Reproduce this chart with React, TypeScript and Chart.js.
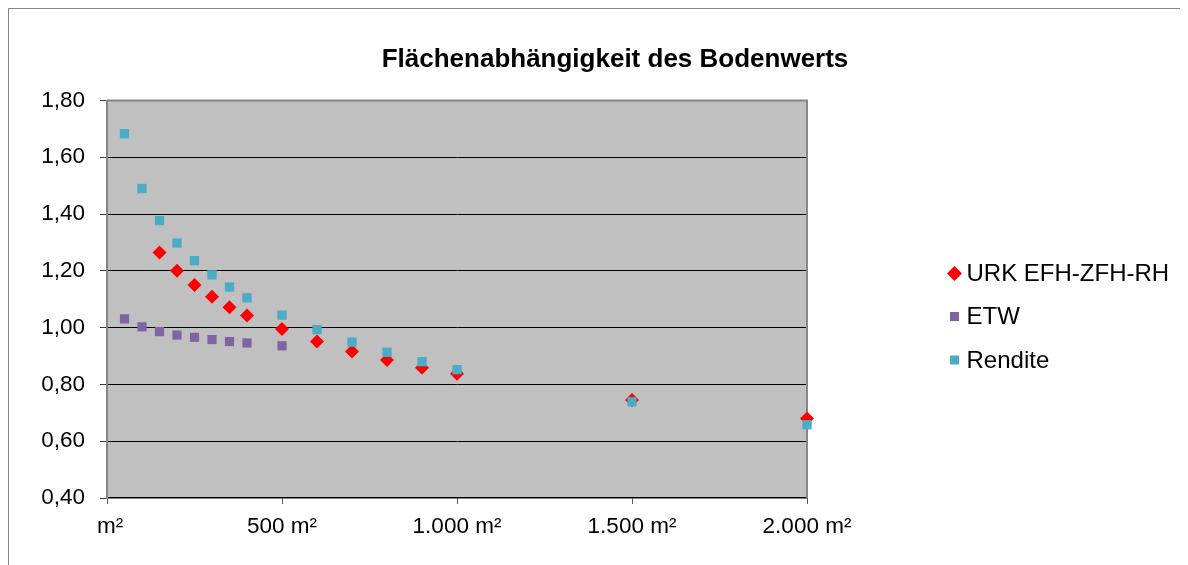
import React, { useEffect, useRef } from 'react';
import { Chart, registerables } from 'chart.js';

Chart.register(...registerables);

const chartTitle = 'Flächenabhängigkeit des Bodenwerts';
const urkLabel = 'URK EFH-ZFH-RH';
const etwLabel = 'ETW';
const renditeLabel = 'Rendite';

const urkAreas = [150, 200, 250, 300, 350, 400, 500, 600, 700, 800, 900, 1000, 1500, 2000];
const urkValues = [1.265, 1.2, 1.15, 1.109, 1.072, 1.043, 0.995, 0.951, 0.916, 0.886, 0.859, 0.838, 0.745, 0.68];

const etwAreas = [50, 100, 150, 200, 250, 300, 350, 400, 500];
const etwValues = [1.031, 1.003, 0.986, 0.974, 0.966, 0.958, 0.951, 0.946, 0.936];

const renditeAreas = [50, 100, 150, 200, 250, 300, 350, 400, 500, 600, 700, 800, 900, 1000, 1500, 2000];
const renditeValues = [1.683, 1.49, 1.377, 1.298, 1.236, 1.186, 1.143, 1.105, 1.044, 0.993, 0.949, 0.913, 0.88, 0.852, 0.739, 0.658];

const xTickValues = [0, 500, 1000, 1500, 2000];
const xTickLabels = [' m²', '500 m²', '1.000 m²', '1.500 m²', '2.000 m²'];
const yTickValues = [0.4, 0.6, 0.8, 1.0, 1.2, 1.4, 1.6, 1.8];
const yTickLabels = ['0,40', '0,60', '0,80', '1,00', '1,20', '1,40', '1,60', '1,80'];

const FONT = "'Liberation Sans', Arial, sans-serif";
const RED = '#FF0000';
const PURPLE = '#8064A2';
const AQUA = '#4BACC6';

const toPoints = (xs: number[], ys: number[]) => xs.map((x, i) => ({ x, y: ys[i] }));

const plotFrame = {
  id: 'plotFrame',
  beforeDraw(chart: any) {
    const { ctx, chartArea: a } = chart;
    ctx.save();
    ctx.fillStyle = '#C0C0C0';
    ctx.fillRect(a.left, a.top, a.right - a.left, a.bottom - a.top);
    ctx.restore();
  },
  beforeDatasetsDraw(chart: any) {
    const { ctx, chartArea: a } = chart;
    ctx.save();
    ctx.strokeStyle = '#868686';
    ctx.lineWidth = 2;
    ctx.beginPath();
    ctx.moveTo(a.left, a.top);
    ctx.lineTo(a.right, a.top);
    ctx.lineTo(a.right, a.bottom);
    ctx.stroke();
    ctx.restore();
  },
};

const titleAndLegend = {
  id: 'titleAndLegend',
  afterDraw(chart: any) {
    const { ctx } = chart;
    ctx.save();
    ctx.fillStyle = '#000';
    ctx.font = `bold 26px ${FONT}`;
    ctx.textAlign = 'center';
    ctx.textBaseline = 'alphabetic';
    ctx.fillText(chartTitle, 606, 58);

    const legendX = 945.5;
    const legendYs = [264.5, 307.5, 351];
    ctx.font = `24px ${FONT}`;
    ctx.textAlign = 'left';
    ctx.textBaseline = 'middle';
    chart.data.datasets.forEach((ds: any, i: number) => {
      const y = legendYs[i];
      ctx.fillStyle = ds.pointBackgroundColor;
      ctx.beginPath();
      if (ds.pointStyle === 'rectRot') {
        const r = 7.5;
        ctx.moveTo(legendX - r, y);
        ctx.lineTo(legendX, y - r);
        ctx.lineTo(legendX + r, y);
        ctx.lineTo(legendX, y + r);
        ctx.closePath();
      } else {
        const s = 4.5;
        ctx.rect(legendX - s, y - s, 2 * s, 2 * s);
      }
      ctx.fill();
      ctx.fillStyle = '#000';
      ctx.fillText(ds.label, 957.5, y + 1);
    });
    ctx.restore();
  },
};

export default function App() {
  const canvasRef = useRef<HTMLCanvasElement | null>(null);

  useEffect(() => {
    document.body.style.overflow = 'hidden';
    const canvas = canvasRef.current;
    if (!canvas) return;
    const chart = new Chart(canvas, {
      type: 'scatter',
      data: {
        datasets: [
          {
            label: urkLabel,
            data: toPoints(urkAreas, urkValues),
            order: 3,
            pointStyle: 'rectRot',
            pointRadius: 7,
            pointHoverRadius: 7,
            pointBackgroundColor: RED,
            pointBorderColor: RED,
            pointBorderWidth: 0,
            clip: false,
          } as any,
          {
            label: etwLabel,
            data: toPoints(etwAreas, etwValues),
            order: 2,
            pointStyle: 'rect',
            pointRadius: 6.5,
            pointHoverRadius: 6.5,
            pointBackgroundColor: PURPLE,
            pointBorderColor: PURPLE,
            pointBorderWidth: 0,
            clip: false,
          } as any,
          {
            label: renditeLabel,
            data: toPoints(renditeAreas, renditeValues),
            order: 1,
            pointStyle: 'rect',
            pointRadius: 6.6,
            pointHoverRadius: 6.6,
            pointBackgroundColor: AQUA,
            pointBorderColor: AQUA,
            pointBorderWidth: 0,
            clip: false,
          } as any,
        ],
      },
      options: {
        responsive: false,
        animation: false,
        events: [],
        layout: { padding: { left: 0, top: 91.5, right: 402, bottom: 21 } },
        plugins: {
          legend: { display: false },
          title: { display: false },
          tooltip: { enabled: false },
        },
        scales: {
          x: {
            type: 'linear',
            min: 0,
            max: 2000,
            afterBuildTicks: (scale: any) => {
              scale.ticks = xTickValues.map((v) => ({ value: v }));
            },
            afterFit: (scale: any) => {
              scale.height = 60;
            },
            ticks: {
              autoSkip: false,
              maxRotation: 0,
              padding: 9,
              color: '#000',
              font: { family: FONT, size: 22.5, lineHeight: 1.2 },
              callback: (value: any) => {
                const i = xTickValues.findIndex((v) => Math.abs(v - Number(value)) < 1e-6);
                return i >= 0 ? xTickLabels[i] : '';
              },
            },
            grid: {
              display: true,
              drawOnChartArea: false,
              drawTicks: true,
              tickLength: 6,
              tickColor: '#5a5a5a',
              tickWidth: 1,
            },
            border: { display: true, color: '#000', width: 1.5 },
          },
          y: {
            type: 'linear',
            min: 0.4,
            max: 1.8,
            afterBuildTicks: (scale: any) => {
              scale.ticks = yTickValues.map((v) => ({ value: v }));
            },
            afterFit: (scale: any) => {
              scale.width = 98;
            },
            ticks: {
              padding: 15,
              color: '#000',
              font: { family: FONT, size: 22.5, lineHeight: 1.2 },
              callback: (value: any) => {
                const i = yTickValues.findIndex((v) => Math.abs(v - Number(value)) < 1e-6);
                return i >= 0 ? yTickLabels[i] : '';
              },
            },
            grid: {
              display: true,
              drawTicks: true,
              tickLength: 7,
              tickColor: '#3a3a3a',
              lineWidth: 1,
              color: (ctx: any) => {
                const v = ctx.tick ? ctx.tick.value : 0;
                if (Math.abs(v - 1.8) < 1e-6 || Math.abs(v - 0.4) < 1e-6) return 'rgba(0,0,0,0)';
                return '#000';
              },
            },
            border: { display: true, color: '#868686', width: 2 },
          },
        },
      },
      plugins: [plotFrame, titleAndLegend],
    });
    return () => chart.destroy();
  }, []);

  return (
    <div style={{ width: 1200, height: 570, border: '1px solid #868686' }}>
      <canvas ref={canvasRef} width={1200} height={570} style={{ display: 'block' }} />
    </div>
  );
}
